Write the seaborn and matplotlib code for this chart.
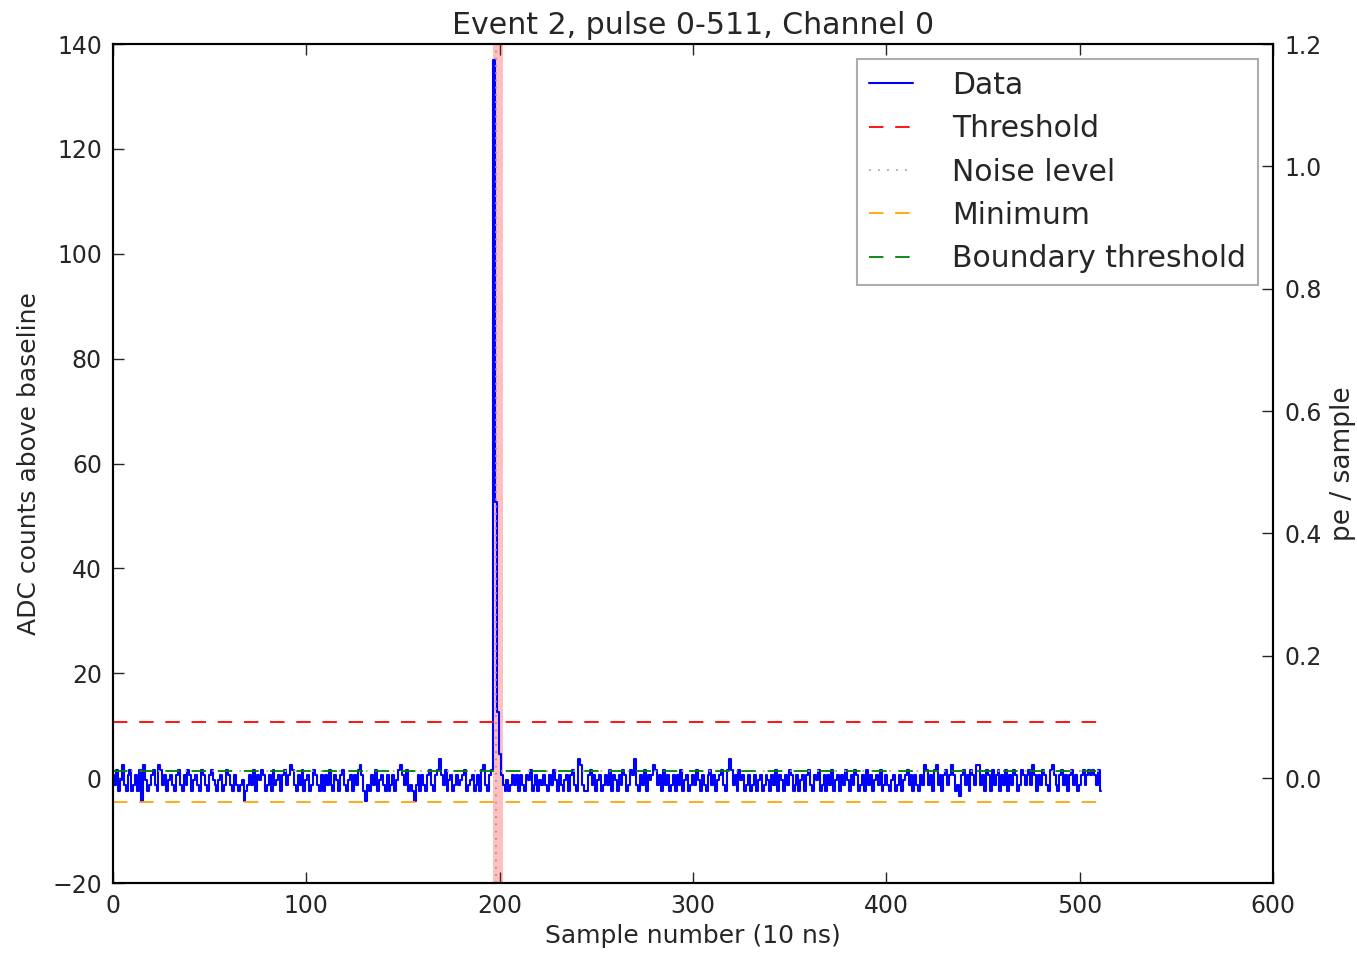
import numpy as np
import pandas as pd
import seaborn as sns
import matplotlib
matplotlib.use("Agg")
import matplotlib.pyplot as plt

# ADC counts above baseline for samples 0-511 of the pulse
adc_counts = [
    0.6, -1.4, 1.6, -2.4, -0.4, 2.6, -1.4, -2.4, 0.6, 1.6, -2.4, -1.4, 0.6, -2.4, 1.6, -4.4,
    2.6, -0.4, -2.4, -1.4, 0.6, 1.6, -1.4, -2.4, 2.6, 1.6, -1.4, 0.6, -2.4, -0.4, 0.6, -1.4,
    -2.4, 0.6, 1.6, -1.4, -2.4, 0.6, -1.4, 1.6, 0.6, -2.4, -0.4, 0.6, -1.4, -2.4, 1.6, 0.6,
    -1.4, -2.4, 0.6, 1.6, -0.4, -1.4, -2.4, -0.4, 0.6, -2.4, -1.4, 1.6, 0.6, -1.4, -2.4, 0.6,
    -1.4, -2.4, -1.4, -0.4, -4.4, -2.4, -1.4, 0.6, -1.4, 1.6, -2.4, 0.6, -0.4, 1.6, 0.6, -2.4,
    -1.4, 0.6, -2.4, 1.6, -1.4, -0.4, 0.6, -2.4, 0.6, 1.6, -1.4, 0.6, 2.6, 1.6, -1.4, -2.4,
    0.6, -1.4, 1.6, -2.4, -0.4, 0.6, -2.4, -1.4, 1.6, 0.6, -1.4, -2.4, 0.6, -2.4, 0.6, -1.4,
    1.6, -1.4, -2.4, 0.6, -0.4, -2.4, 0.6, 1.6, -1.4, -2.4, -0.4, 0.6, -2.4, 0.6, -1.4, 1.6,
    2.6, 0.6, -2.4, -4.4, -1.4, -2.4, 0.6, -1.4, 1.6, -2.4, -0.4, 0.6, -1.4, -2.4, 0.6, -2.4,
    -1.4, 0.6, -2.4, -0.4, 1.6, 2.6, 0.6, -1.4, 1.6, -2.4, -1.4, -2.4, -4.4, -1.4, 0.6, -2.4,
    0.6, -1.4, -2.4, 0.6, 1.6, -1.4, -2.4, 0.6, 1.6, 3.6, 0.6, -1.4, 1.6, -2.4, -0.4, 0.6,
    -2.4, -1.4, 0.6, -1.4, -0.4, 0.6, 1.6, -2.4, -1.4, -0.4, 0.6, -2.4, -1.4, 0.6, -2.4, 1.6,
    2.6, -1.4, -2.4, 0.6, 1.6, 137.0, 52.6, 12.6, 4.6, 0.6, -1.4, -2.4, -0.4, -2.4, -1.4, 0.6,
    -1.4, 0.6, -2.4, 0.6, -1.4, -2.4, 0.6, -0.4, 1.6, -2.4, -1.4, 0.6, -2.4, -0.4, -1.4, 0.6,
    -1.4, -2.4, 0.6, -1.4, 1.6, -0.4, -2.4, 0.6, -1.4, -2.4, -0.4, 0.6, -2.4, 0.6, 1.6, -1.4,
    -2.4, 3.6, 2.6, -1.4, -2.4, -2.4, 0.6, 1.6, -1.4, 0.6, -2.4, -0.4, 0.6, -2.4, -1.4, 0.6,
    -1.4, 1.6, -2.4, 0.6, -0.4, -2.4, 0.6, -1.4, 1.6, 0.6, -2.4, -1.4, 1.6, 0.6, 3.6, -1.4,
    -2.4, 0.6, -1.4, 1.6, -2.4, 0.6, -0.4, 0.6, 2.6, 1.6, -1.4, 0.6, -2.4, 1.6, -1.4, 0.6,
    -2.4, -1.4, 0.6, -2.4, 0.6, -1.4, 1.6, -2.4, -0.4, 0.6, -2.4, -1.4, 0.6, -1.4, 1.6, -0.4,
    -2.4, 0.6, -1.4, -2.4, 0.6, 1.6, -1.4, 0.6, -2.4, -0.4, 0.6, 1.6, -1.4, -2.4, 1.6, 3.6,
    1.6, -1.4, 0.6, -2.4, 1.6, -0.4, 0.6, -2.4, -1.4, 0.6, -2.4, -1.4, 0.6, -2.4, -0.4, 0.6,
    -2.4, -1.4, 0.6, -0.4, -2.4, 0.6, -1.4, 1.6, -2.4, 0.6, -0.4, -2.4, 0.6, -1.4, 1.6, 0.6,
    -2.4, -1.4, 0.6, -2.4, -0.4, 0.6, -2.4, 0.6, 1.6, -1.4, -2.4, 0.6, -0.4, 1.6, -2.4, -1.4,
    0.6, -2.4, 0.6, -1.4, 1.6, -2.4, -0.4, 0.6, -2.4, 0.6, -1.4, 1.6, -0.4, -2.4, 0.6, -1.4,
    1.6, 0.6, -2.4, -1.4, 0.6, -2.4, 1.6, -1.4, 0.6, -2.4, -0.4, 0.6, -1.4, 1.6, -2.4, -1.4,
    0.6, -1.4, -2.4, -0.4, 0.6, -2.4, -1.4, 0.6, -2.4, -0.4, 0.6, 1.6, -1.4, 0.6, -2.4, 0.6,
    -1.4, -2.4, 0.6, -1.4, 2.6, 1.6, -1.4, 0.6, -2.4, 1.6, 2.6, -1.4, 0.6, -2.4, 0.6, 1.6,
    -1.4, 0.6, 2.6, 0.6, -2.4, -1.4, -3.4, 0.6, 1.6, -1.4, 0.6, -2.4, 1.6, 0.6, -1.4, 2.6,
    2.6, -1.4, 0.6, -2.4, 1.6, 0.6, -2.4, 1.6, -1.4, 0.6, 1.6, -2.4, 0.6, -1.4, 1.6, -2.4,
    0.6, -1.4, 1.6, 0.6, -2.4, -1.4, 1.6, 0.6, -1.4, 0.6, 1.6, -1.4, 2.6, 0.6, -2.4, 0.6,
    -1.4, 1.6, 0.6, -1.4, -2.4, 1.6, 2.6, 0.6, -1.4, -2.4, 0.6, 1.6, -1.4, 0.6, -2.4, 0.6,
    1.6, -1.4, 0.6, -2.4, -1.4, 0.6, 1.6, -1.4, 0.6, 1.6, 0.6, 1.6, 0.6, -1.4, 1.6, -2.4,
]
sample_index = list(range(len(adc_counts)))

# Hit-finder levels (ADC counts)
threshold = 10.7
noise_level = 1.3
minimum_level = -4.6
boundary_threshold = 1.3

# Found hit window (samples) and hit centre
hit_start, hit_end = 196.5, 201.7
hit_centre = 198.0

# Conversion from ADC counts to photoelectrons per sample
adc_per_pe = 140 / 1.2
left_ylim = (-20, 140)

sns.set_style("ticks")
plt.rcParams["font.family"] = ["DejaVu Sans"]
plt.rcParams["xtick.direction"] = "in"
plt.rcParams["ytick.direction"] = "in"

fig = plt.figure(figsize=(13.57, 9.57), dpi=100)
ax = fig.add_axes([0.0833, 0.0773, 0.8548, 0.8767])

dash = (0, (8, 6.5))
df = pd.DataFrame({"sample": sample_index, "adc": adc_counts})
sns.lineplot(data=df, x="sample", y="adc", ax=ax, color="blue", lw=1.5,
             drawstyle="steps-mid", label="Data")

x_end = sample_index[-1]
ax.plot([0, x_end], [threshold, threshold], color="red", ls=dash, lw=1.3,
        label="Threshold")
ax.plot([0, x_end], [noise_level, noise_level], color="#aaaaaa", ls=(0, (1, 4)), lw=1.3,
        label="Noise level")
ax.plot([0, x_end], [minimum_level, minimum_level], color="orange", ls=dash, lw=1.3,
        label="Minimum")
ax.plot([0, x_end], [boundary_threshold, boundary_threshold], color="green", ls=dash,
        lw=1.3, label="Boundary threshold")
ax.axvspan(hit_start, hit_end, color="red", alpha=0.25, lw=0)
ax.axvline(hit_centre, color="#999999", ls=(0, (1, 3)), lw=1.3)

ax.set_xlim(0, 600)
ax.set_ylim(*left_ylim)
ax.set_xticks(range(0, 601, 100))
ax.set_yticks(range(-20, 141, 20))
ax.set_yticklabels(["\u221220"] + [str(v) for v in range(0, 141, 20)])
ax.tick_params(axis="both", which="major", direction="in", length=8, width=1,
               labelsize=17, top=True, right=False, pad=8)
ax.set_xlabel("Sample number (10 ns)", fontsize=18, labelpad=4)
ax.set_ylabel("ADC counts above baseline", fontsize=18, labelpad=8)
ax.set_title("Event 2, pulse 0-511, Channel 0", fontsize=21.6, pad=7)
for sp in ax.spines.values():
    sp.set_linewidth(1.5)
    sp.set_color("black")

leg = ax.legend(loc="upper right", fontsize=21.5, handlelength=1.5, handletextpad=1.3,
                labelspacing=0.48, borderpad=0.4, borderaxespad=0.5,
                frameon=True, fancybox=False)
leg.get_frame().set_edgecolor("#999999")
leg.get_frame().set_linewidth(1.5)

ax2 = ax.twinx()
ax2.set_ylim(left_ylim[0] / adc_per_pe, left_ylim[1] / adc_per_pe)
ax2.set_yticks([0.0, 0.2, 0.4, 0.6, 0.8, 1.0, 1.2])
ax2.set_yticklabels(["0.0", "0.2", "0.4", "0.6", "0.8", "1.0", "1.2"])
ax2.tick_params(axis="y", direction="in", length=8, width=1, labelsize=17, pad=8)
ax2.set_ylabel("pe / sample", fontsize=19, labelpad=6)
for sp in ax2.spines.values():
    sp.set_linewidth(1.5)
    sp.set_color("black")

fig.savefig("out.png", dpi=100)
